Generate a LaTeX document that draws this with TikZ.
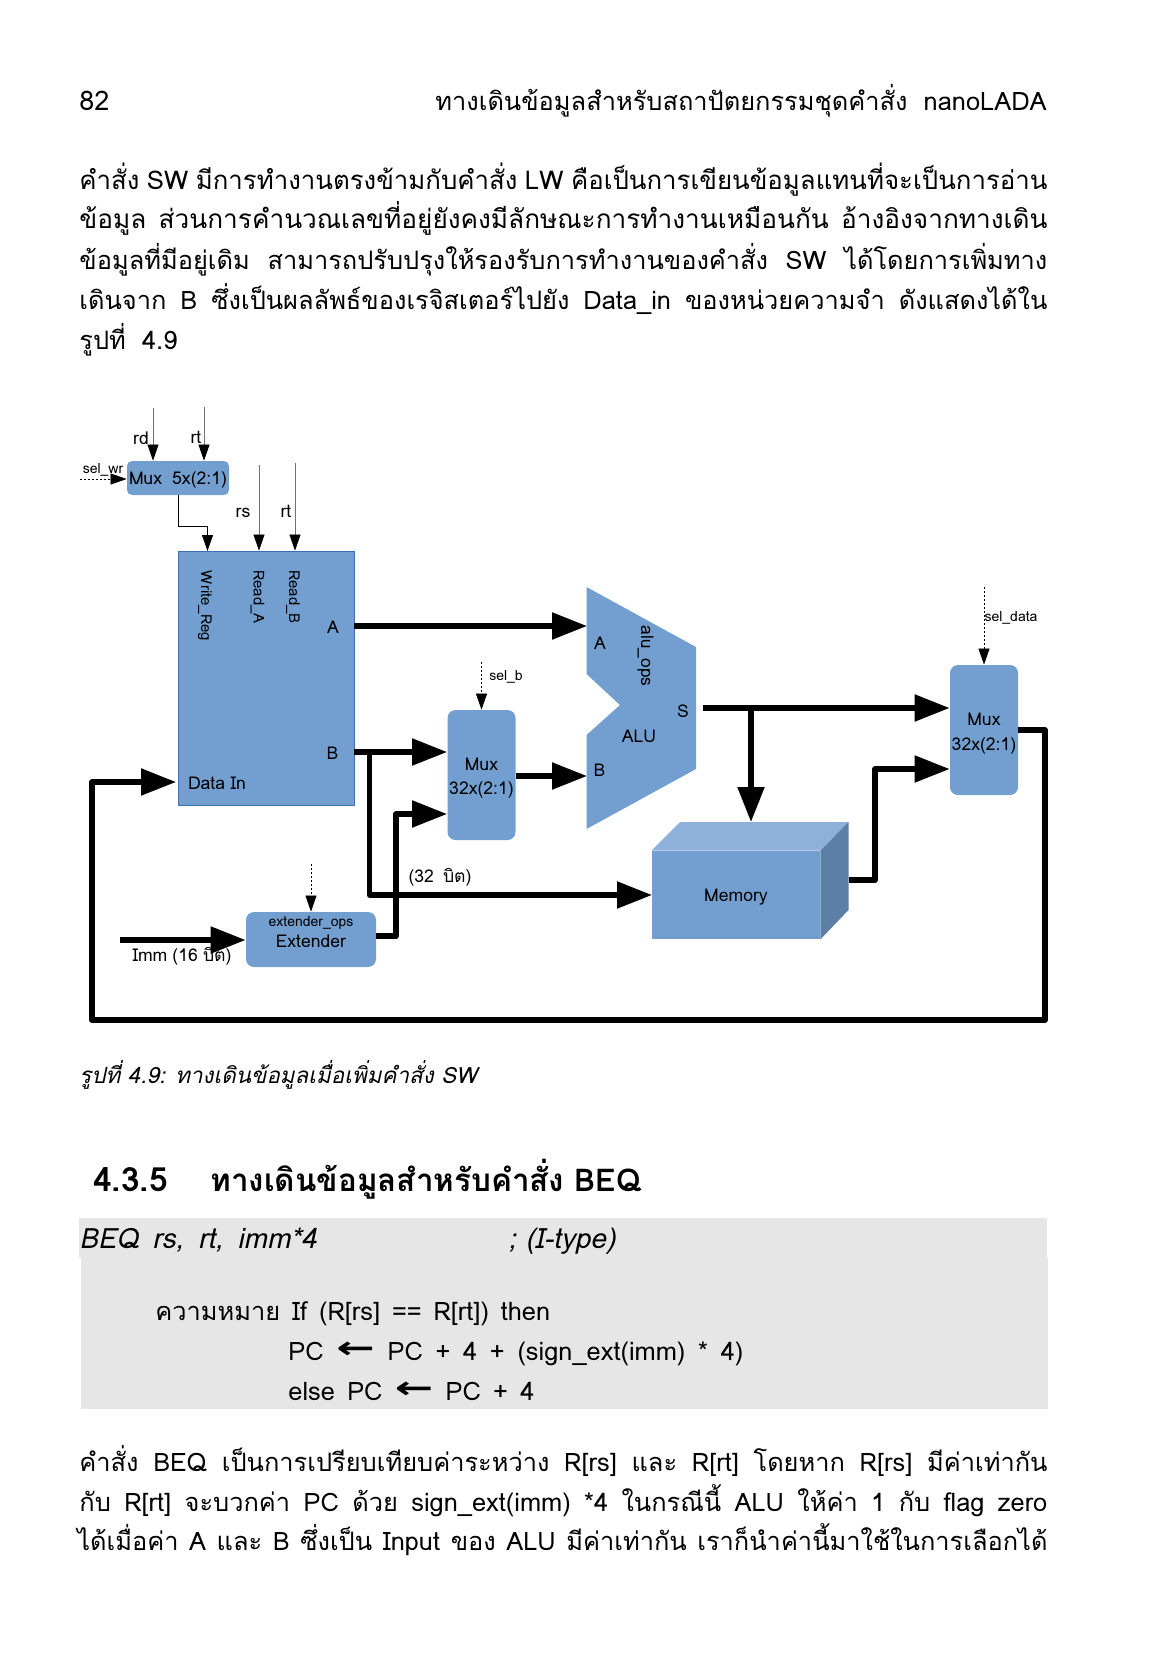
\documentclass[tikz,border=0pt]{standalone}
\usepackage{fontspec}
\setmainfont[Script=Thai]{Loma}
\newfontfamily\arrowfont{DejaVu Sans}
\usepackage{tikz}
\usetikzlibrary{arrows.meta}
\definecolor{blockblue}{HTML}{729FCF}
\definecolor{blockedge}{HTML}{3F6FAF}
\definecolor{memtop}{HTML}{8EB0DA}
\definecolor{memside}{HTML}{5C7FA8}
\definecolor{codegrey}{HTML}{E6E6E6}
\newcommand{\fs}[1]{\fontsize{#1}{#1}\selectfont}
\newcommand{\jline}[1]{\makebox[484pt][s]{#1}}
\newcommand{\larr}{\raisebox{0.6pt}{\scalebox{1.35}[0.9]{\arrowfont\bfseries\fs{17}←}}}

\begin{document}
\begin{tikzpicture}[x=0.5pt,y=-0.5pt]
		\useasboundingbox (0,0) rectangle (1166,1654);
		\fill[codegrey] (79,1218) rectangle (1047,1258);
		\fill[codegrey] (81,1258) rectangle (1048,1409);

		\begin{scope}[every node/.style={anchor=base west,inner sep=0pt},font=\fs{12.7}]
		    \node (pageno) at (79,110) {\fs{13.5}82};
		    \node[anchor=base east] (header) at (1047,110) {\makebox[305.6pt][s]{ทางเดินข้อมูลสำหรับสถาปัตยกรรมชุดคำสั่ง nanoLADA}};
		    \node[font=\fs{12.9}] (body1) at (79,189) {\jline{คำสั่ง SW มีการทำงานตรงข้ามกับคำสั่ง LW คือเป็นการเขียนข้อมูลแทนที่จะเป็นการอ่าน}};
		    \node[font=\fs{13.1}] (body2) at (79,228.5) {\jline{ข้อมูล ส่วนการคำนวณเลขที่อยู่ยังคงมีลักษณะการทำงานเหมือนกัน อ้างอิงจากทางเดิน}};
		    \node (body3) at (79,269) {\jline{ข้อมูลที่มีอยู่เดิม สามารถปรับปรุงให้รองรับการทำงานของคำสั่ง SW ได้โดยการเพิ่มทาง}};
		    \node (body4) at (79,309.5) {\jline{เดินจาก B ซึ่งเป็นผลลัพธ์ของเรจิสเตอร์ไปยัง Data\_in ของหน่วยความจำ ดังแสดงได้ใน}};
		    \node (body5) at (79,349) {\makebox[49pt][s]{รูปที่ 4.9}};
		    \node[font=\fs{11.2}\itshape] (caption) at (79,1083) {รูปที่ 4.9: ทางเดินข้อมูลเมื่อเพิ่มคำสั่ง SW};
		    \node[font=\fs{16.7}\bfseries] (secno) at (93,1191) {4.3.5};
		    \node[font=\fs{15.7}\bfseries] (sectitle) at (210,1191) {ทางเดินข้อมูลสำหรับคำสั่ง BEQ};
		    \node[font=\fs{14}\itshape] (beq) at (79,1248) {\makebox[118.7pt][s]{BEQ rs, rt, imm*4}};
		    \node[font=\fs{14}\itshape] (itype) at (508,1248) {; (I-type)};
		    \node (mean) at (155,1320) {\makebox[197.4pt][s]{ความหมาย If (R[rs] == R[rt]) then}};
		    \node (pcthen) at (288,1360) {\makebox[227.5pt][s]{PC \larr{} PC + 4 + (sign\_ext(imm) * 4)}};
		    \node (pcelse) at (288,1400) {\makebox[123pt][s]{else PC \larr{} PC + 4}};
		    \node (para1) at (79,1471) {\jline{คำสั่ง BEQ เป็นการเปรียบเทียบค่าระหว่าง R[rs] และ R[rt] โดยหาก R[rs] มีค่าเท่ากัน}};
		    \node (para2) at (79,1511) {\jline{กับ R[rt] จะบวกค่า PC ด้วย sign\_ext(imm) *4 ในกรณีนี้ ALU ให้ค่า 1 กับ flag zero}};
		    \node (para3) at (77,1550) {\makebox[485pt][s]{ได้เมื่อค่า A และ B ซึ่งเป็น Input ของ ALU มีค่าเท่ากัน เราก็นำค่านี้มาใช้ในการเลือกได้}};
		\end{scope}

		\begin{scope}[every node/.style={fill=blockblue,inner sep=0pt,rounded corners=4pt,align=center}]
		    \node[minimum width=51pt,minimum height=17pt,rounded corners=2.5pt] (mux5) at (178,478) {};
		    \node[minimum width=88pt,minimum height=127pt,rounded corners=0pt,draw=blockedge,line width=0.4pt] (regfile) at (266,678) {};
		    \node[minimum width=34pt,minimum height=65pt] (muxb) at (481.5,775) {};
		    \node[minimum width=34pt,minimum height=65pt] (muxdata) at (984,730) {};
		    \node[minimum width=65pt,minimum height=27.5pt] (extender) at (311,939.5) {};
		    \node[minimum width=84pt,minimum height=44pt,rounded corners=0pt] (memory) at (736,895) {};
		\end{scope}

		\fill[memtop] (memory.north west) -- (680,822) -- (848.5,822) -- (memory.north east) -- cycle;
		\fill[memside] (memory.north east) -- (848.5,822) -- (848.5,910) -- (memory.south east) -- cycle;
		\fill[blockblue] (586.5,587) -- (696,647) -- (696,769) -- (586.5,829) -- (586.5,735) -- (620,705) -- (586.5,674) -- cycle;

		\coordinate (aluA) at (587,626);
		\coordinate (aluB) at (587,776);
		\coordinate (aluS) at (703,708);
		\coordinate (rdin) at (153,408);
		\coordinate (rtin) at (204,407);
		\coordinate (rsin) at (259,465);
		\coordinate (rtinb) at (295,463);
		\coordinate (selwrin) at (80,479);
		\coordinate (selbin) at (481.5,662);
		\coordinate (seldatain) at (984,587);
		\coordinate (extopsin) at (311,864);
		\coordinate (immin) at (120,940);
		\coordinate (databack) at (1045,1020);
		\coordinate (regdata) at (176,782);
		\coordinate (memin) at (652,895);
		\coordinate (memout) at (848.5,880);

		\begin{scope}[every node/.style={inner sep=0pt},font=\fs{8.8}]
		    \node (mux5text) at (178,480) {\makebox[49pt][s]{Mux 5x(2:1)}};
		    \node (rdlabel) at (141,438) {rd};
		    \node (rtlabel) at (196,437) {rt};
		    \node (rslabel) at (243,513) {rs};
		    \node (rtlabelb) at (286,511) {rt};
		    \node[font=\fs{7}] (selwrlabel) at (103,470) {sel\_wr};
		    \node[rotate=-90,font=\fs{7.5}] (writereg) at (205,606) {Write\_Reg};
		    \node[rotate=-90,font=\fs{7.5}] (reada) at (257.5,597) {Read\_A};
		    \node[rotate=-90,font=\fs{7.5}] (readb) at (293,597) {Read\_B};
		    \node (regA) at (333,627) {A};
		    \node (regB) at (332.5,753) {B};
		    \node (datain) at (217,783) {\makebox[29pt][s]{Data In}};
		    \node[font=\fs{7}] (selblabel) at (506,677) {sel\_b};
		    \node (muxbtext1) at (481.5,764) {Mux};
		    \node (muxbtext2) at (481.5,790) {32x(2:1)};
		    \node (aluAtext) at (600,643) {A};
		    \node (aluBtext) at (599.5,770) {B};
		    \node (aluStext) at (683,711) {S};
		    \node (alutext) at (639,736) {ALU};
		    \node[rotate=-90,font=\fs{8.7}] (aluops) at (645.5,656) {alu\_ops};
		    \node[font=\fs{7}] (seldatalabel) at (1011,618) {sel\_data};
		    \node (muxdatatext1) at (984,719) {Mux};
		    \node (muxdatatext2) at (984,746) {32x(2:1)};
		    \node (memtext) at (736,897) {Memory};
		    \node (bitslabel) at (440,877) {\makebox[31.5pt][s]{(32 บิต)}};
		    \node[font=\fs{7}] (extops) at (311,923) {extender\_ops};
		    \node (extext) at (311,941) {Extender};
		\end{scope}

		\begin{scope}[>={Triangle[length=8pt,width=5.5pt,black]},
		              every path/.style={draw=black,line width=0.3pt}]
		    \draw[->,draw=black!55] (rdin) -- (rdin |- mux5.north);
		    \draw[->,draw=black!55] (rtin) -- (rtin |- mux5.north);
		    \draw[->,draw=black!55] (rsin) -- (rsin |- regfile.north);
		    \draw[->,draw=black!55] (rtinb) -- (rtinb |- regfile.north);
		    \draw[->,line width=0.5pt] (178.5,495) |- (207.5,526) -- (207.5,551);
		    \draw[->,dash pattern=on 1pt off 1pt] (selwrin) -- (mux5.west |- selwrin);
		    \draw[->,dash pattern=on 1pt off 1pt] (selbin) -- (muxb.north);
		    \draw[->,dash pattern=on 1pt off 1pt] (seldatain) -- (muxdata.north);
		    \draw[->,dash pattern=on 1pt off 1pt] (extopsin) -- (extender.north);
		\end{scope}

		\begin{scope}[>={Triangle[length=17.5pt,width=13pt]},
		              every path/.style={draw=black,line width=2.6pt,line join=round}]
		    \draw[->] (regfile.east |- aluA) -- (aluA);
		    \draw[->] (regfile.east |- 0,752) -- (muxb.west |- 0,752);
		    \draw[->] (369.5,752) |- (memin);
		    \draw[->] (muxb.east |- aluB) -- (aluB);
		    \draw[->] (extender.east |- 0,936) -| (396,814) -- (muxb.west |- 0,814);
		    \draw[->] (immin) -- (extender.west |- immin);
		    \draw[->] (aluS) -- (muxdata.west |- aluS);
		    \draw[->] (751,708) -- (751,822);
		    \draw[->] (memout) -| (875,769) -- (muxdata.west |- 0,769);
		    \draw[->] (muxdata.east |- 0,730) -| (databack) -| (92,782) -- (regdata);
		\end{scope}

		\node[inner sep=0pt,font=\fs{8.8}] (immlabel) at (182,956) {\makebox[49.5pt][s]{Imm (16 บิต)}};
\end{tikzpicture}
\end{document}
